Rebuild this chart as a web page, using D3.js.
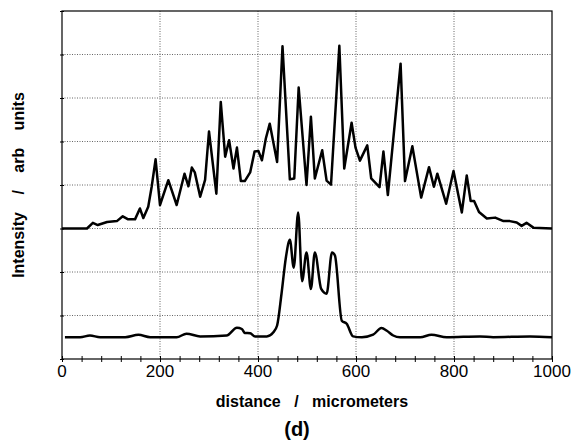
<!DOCTYPE html>
<html>
<head>
<meta charset="utf-8">
<script src="https://d3js.org/d3.v7.min.js"></script>
<style>
  body { margin: 0; background: #fff; }
  text { font-family: "Liberation Sans", Arial, Helvetica, sans-serif; fill: #000; }
</style>
</head>
<body>
<div id="chartContainer"></div>
<script>
// upper profile, drawn 3 grid units up
var upperDistance = [0, 51, 63, 73, 92, 112, 124, 135, 149, 159, 166, 176, 183, 191, 200, 217, 234, 250, 258, 265,
  271, 282, 292, 300, 315, 324, 333, 341, 350, 357, 365, 373, 384, 393, 401, 408, 416, 424, 439, 450,
  465, 474, 483, 499, 508, 516, 531, 540, 549, 566, 576, 591, 599, 608, 623, 631, 648, 656, 665, 691,
  700, 715, 733, 749, 759, 766, 784, 799, 816, 826, 834, 841, 851, 867, 884, 901, 914, 928, 938, 948,
  962, 1000];
var upperIntensity = [0, 0, 0.13, 0.08, 0.15, 0.17, 0.28, 0.21, 0.21, 0.46, 0.24, 0.50, 0.96, 1.59, 0.54, 1.11, 0.54, 1.26, 0.97, 1.40,
  1.29, 0.73, 1.12, 2.23, 0.80, 2.91, 1.65, 2.03, 1.38, 1.86, 1.09, 1.09, 1.29, 1.77, 1.78, 1.57, 2.07, 2.41, 1.53, 4.19,
  1.13, 1.15, 3.24, 1.00, 2.57, 1.15, 1.80, 1.10, 1.01, 4.20, 1.38, 2.43, 1.86, 1.56, 1.91, 1.15, 0.95, 1.77, 0.77, 3.79,
  1.09, 1.89, 0.71, 1.41, 0.96, 1.26, 0.57, 1.32, 0.37, 1.22, 0.63, 0.63, 0.38, 0.23, 0.25, 0.17, 0.17, 0.14, 0.06, 0.13,
  0.02, 0];

// lower profile, drawn 0.5 grid units up
var lowerDistance = [6, 37, 57, 78, 129, 156, 180, 234, 254, 282, 336, 357, 367, 373, 384, 394, 418, 431, 439, 448,
  457, 465, 473, 482, 490, 499, 508, 516, 529, 540, 551, 557, 571, 581, 594, 612, 635, 652, 663, 676,
  690, 731, 754, 785, 853, 880, 955, 1000];
var lowerIntensity = [0, 0, 0.04, 0, 0, 0.055, 0, 0, 0.08, 0.02, 0.04, 0.22, 0.19, 0.10, 0.09, 0.02, 0.02, 0.11, 0.27, 1.00,
  1.84, 2.24, 1.60, 2.87, 1.29, 1.95, 1.11, 1.95, 1.11, 1.00, 1.95, 1.88, 0.38, 0.31, 0.02, 0, 0.06, 0.21, 0.15, 0.04,
  0, 0, 0.06, 0, 0.02, 0, 0.02, 0];

var upperOffset = 3;
var lowerOffset = 0.5;
var xTickLabels = [0, 200, 400, 600, 800, 1000];
var gridLevels = [1, 2, 3, 4, 5, 6, 7];

var width = 572, height = 440;
var margin = {left: 62, top: 11, right: 20, bottom: 81};
var w = width - margin.left - margin.right;
var h = height - margin.top - margin.bottom;

var svg = d3.select('#chartContainer').append('svg')
  .attr('width', width).attr('height', height);
var g = svg.append('g').attr('transform', 'translate(' + margin.left + ',' + margin.top + ')');

var x = d3.scaleLinear().domain([0, 1000]).range([0, w]);
var y = d3.scaleLinear().domain([0, 8]).range([h, 0]);

// dotted grid
g.selectAll('.hgrid').data(gridLevels).enter().append('line')
  .attr('x1', 0).attr('x2', w)
  .attr('y1', function(d) { return y(d); }).attr('y2', function(d) { return y(d); })
  .attr('stroke', '#666').attr('stroke-width', 1).attr('stroke-dasharray', '1,1.5');
g.selectAll('.vgrid').data(xTickLabels.slice(1, -1)).enter().append('line')
  .attr('y1', 0).attr('y2', h)
  .attr('x1', function(d) { return x(d); }).attr('x2', function(d) { return x(d); })
  .attr('stroke', '#666').attr('stroke-width', 1).attr('stroke-dasharray', '1,1.5');

// x axis with minor ticks every 40
var xAxis = d3.axisBottom(x).tickValues(d3.range(0, 1001, 40)).tickSize(3).tickFormat('');
g.append('g').attr('transform', 'translate(0,' + h + ')').call(xAxis)
  .call(function(s) { s.select('.domain').remove(); })
  .selectAll('line').attr('y1', -3).attr('stroke', '#000');

g.selectAll('.xlab').data(xTickLabels).enter().append('text')
  .attr('x', function(d) { return x(d); })
  .attr('y', h + 18)
  .attr('text-anchor', 'middle')
  .attr('font-size', '17px')
  .text(function(d) { return d; });

// y ticks, no labels
var yAxis = d3.axisLeft(y).tickValues(d3.range(0, 9)).tickSize(2).tickFormat('');
g.append('g').call(yAxis)
  .call(function(s) { s.select('.domain').remove(); })
  .selectAll('line').attr('x2', 2).attr('x1', -2).attr('stroke', '#000');

// frame
g.append('rect').attr('x', 0).attr('y', 0).attr('width', w).attr('height', h)
  .attr('fill', 'none').attr('stroke', '#000').attr('stroke-width', 1.2);

// profiles
var upperLine = d3.line()
  .x(function(d) { return x(d[0]); })
  .y(function(d) { return y(d[1] + upperOffset); });
var lowerLine = d3.line()
  .curve(d3.curveMonotoneX)
  .x(function(d) { return x(d[0]); })
  .y(function(d) { return y(d[1] + lowerOffset); });

g.append('path')
  .datum(d3.zip(upperDistance, upperIntensity))
  .attr('d', upperLine)
  .attr('fill', 'none').attr('stroke', '#000').attr('stroke-width', 2.5)
  .attr('stroke-linejoin', 'round');
g.append('path')
  .datum(d3.zip(lowerDistance, lowerIntensity))
  .attr('d', lowerLine)
  .attr('fill', 'none').attr('stroke', '#000').attr('stroke-width', 2.5)
  .attr('stroke-linejoin', 'round');

// titles
svg.append('text')
  .attr('x', 312).attr('y', 407)
  .attr('text-anchor', 'middle')
  .attr('font-size', '16px').attr('font-weight', 'bold')
  .attr('word-spacing', '9px')
  .text('distance / micrometers');

svg.append('text')
  .attr('x', 297).attr('y', 436)
  .attr('text-anchor', 'middle')
  .attr('font-size', '20px').attr('font-weight', 'bold')
  .text('(d)');

svg.append('text')
  .attr('transform', 'translate(24,' + (margin.top + h / 2) + ') rotate(-90)')
  .attr('text-anchor', 'middle')
  .attr('font-size', '16px').attr('font-weight', 'bold')
  .attr('word-spacing', '13px')
  .text('Intensity / arb units');
</script>
</body>
</html>
